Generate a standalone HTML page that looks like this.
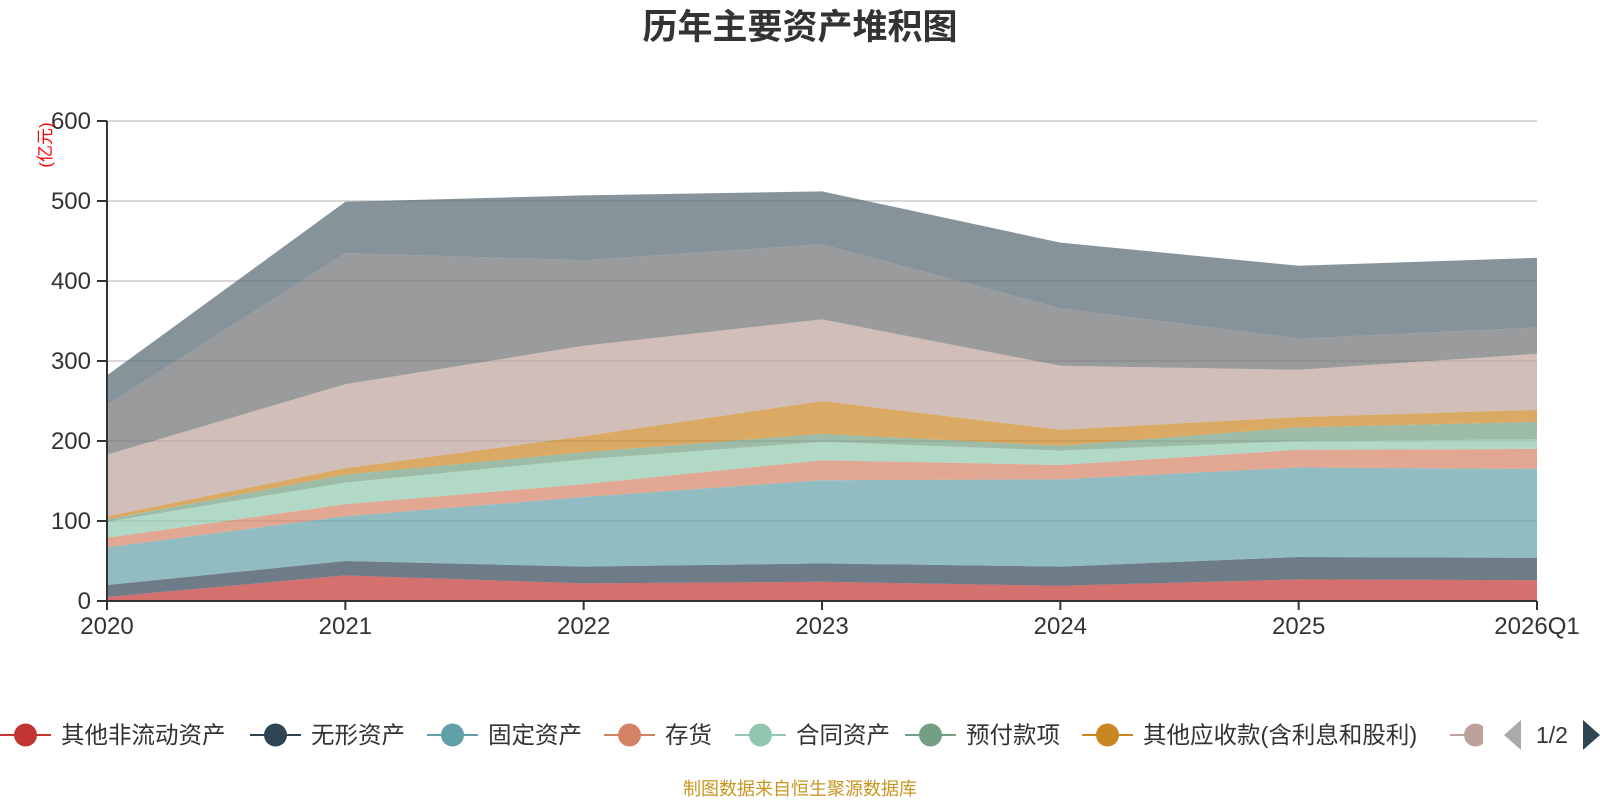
<!DOCTYPE html>
<html><head><meta charset="utf-8"><style>
body{margin:0;background:#fff;}
svg{display:block;font-family:"Liberation Sans","Noto Sans CJK SC",sans-serif;}
</style></head><body>
<svg id="chart" width="1600" height="800">
<text x="800" y="39" text-anchor="middle" font-size="35" font-weight="bold" fill="#333">历年主要资产堆积图</text>
<g id="grid"></g>
<g id="areas"></g>
<g id="axes"></g>
<text transform="translate(51,145) rotate(-90)" text-anchor="middle" font-size="17" fill="#ff0000">(亿元)</text>
<g id="legend"></g>
<text x="800" y="795" text-anchor="middle" font-size="18" fill="#c8961e">制图数据来自恒生聚源数据库</text>
</svg>
<script>
const categories=["2020","2021","2022","2023","2024","2025","2026Q1"];
const seriesNames=["其他非流动资产","无形资产","固定资产","存货","合同资产","预付款项","其他应收款(含利息和股利)","应收账款","货币资金","其他资产"];
const sOther=[5,32,22,24,19,27,26];
const sIntangible=[15,18,21,23,24,28,28];
const sFixed=[47,56,87,104,109,112,111];
const sInventory=[12,15,16,25,18,22,25];
const sContract=[20,27,31,23,18,11,12];
const sPrepay=[3,10,9,10,6,17,22];
const sOtherRecv=[4,8,20,41,20,13,15];
const sRecv=[77,105,113,102,80,59,70];
const sCash=[62,164,107,94,72,39,33];
const sRest=[37,64,81,66,82,91,87];
const yTicks=[0,100,200,300,400,500,600];
const series=[sOther,sIntangible,sFixed,sInventory,sContract,sPrepay,sOtherRecv,sRecv,sCash,sRest];
const colors=["#c23531","#2f4554","#61a0a8","#d48265","#91c7ae","#749f83","#ca8622","#bda29a","#6e7074","#546570"];
const NS="http://www.w3.org/2000/svg";
const X0=107,X1=1537,Y0=601,Y1=121;
const xs=i=>X0+(X1-X0)*i/(categories.length-1);
const ys=v=>Y0-(Y0-Y1)*v/600;
function mk(t,a,p){const e=document.createElementNS(NS,t);for(const k in a)e.setAttribute(k,a[k]);p.appendChild(e);return e;}
const grid=document.getElementById('grid'),axes=document.getElementById('axes'),areas=document.getElementById('areas');
yTicks.forEach(v=>{
 if(v>0){const l=mk('line',{x1:X0,x2:X1,y1:ys(v),y2:ys(v),stroke:'#ccc','stroke-width':1.5},grid);
 
 }
 mk('line',{x1:X0-10,x2:X0,y1:ys(v),y2:ys(v),stroke:'#333','stroke-width':2},axes);
 const t=mk('text',{x:X0-16,y:ys(v)+8,'text-anchor':'end','font-size':24,fill:'#333'},axes);t.textContent=v;
 
 
});
let cum=categories.map(()=>0);
series.forEach((s,k)=>{
 const lo=cum.slice();const hi=cum.map((c,i)=>c+s[i]);cum=hi;
 let d='M'+categories.map((c,i)=>xs(i)+','+ys(hi[i])).join('L');
 for(let i=categories.length-1;i>=0;i--)d+='L'+xs(i)+','+ys(lo[i]);
 const p=mk('path',{d:d+'Z',fill:colors[k],'fill-opacity':0.7},areas);
 
 
});
mk('line',{x1:X0,x2:X0,y1:Y1,y2:Y0,stroke:'#333','stroke-width':2},axes);
mk('line',{x1:X0,x2:X1,y1:Y0,y2:Y0,stroke:'#333','stroke-width':2},axes);
categories.forEach((c,i)=>{
 mk('line',{x1:xs(i),x2:xs(i),y1:Y0,y2:Y0+9,stroke:'#333','stroke-width':2},axes);
 const t=mk('text',{x:xs(i),y:634,'text-anchor':'middle','font-size':24,fill:'#333'},axes);t.textContent=c;
 
 
});
const lg=document.getElementById('legend');
const lx=[0,250,427,604,735,905,1082,1450];
lx.forEach((x,k)=>{
 const g=mk('g',{},lg);
 
 
 mk('line',{x1:x,x2:x+51,y1:735,y2:735,stroke:colors[k],'stroke-width':2},g);
 mk('circle',{cx:x+25.5,cy:735,r:11.5,fill:colors[k]},g);
 if(k<7){const t=mk('text',{x:x+61,y:743,'font-size':23.5,fill:'#333'},g);t.textContent=seriesNames[k];}
});
mk('rect',{x:1483,y:712,width:20,height:46,fill:'#fff'},lg);
const pl=mk('polygon',{points:'1521,720 1521,750 1504,735',fill:'#aaa'},lg);


const pt=mk('text',{x:1552,y:743,'text-anchor':'middle','font-size':23,fill:'#333'},lg);pt.textContent='1/2';


const pr=mk('polygon',{points:'1583,720 1583,750 1600,735',fill:'#2f4554'},lg);


</script>
</body></html>
